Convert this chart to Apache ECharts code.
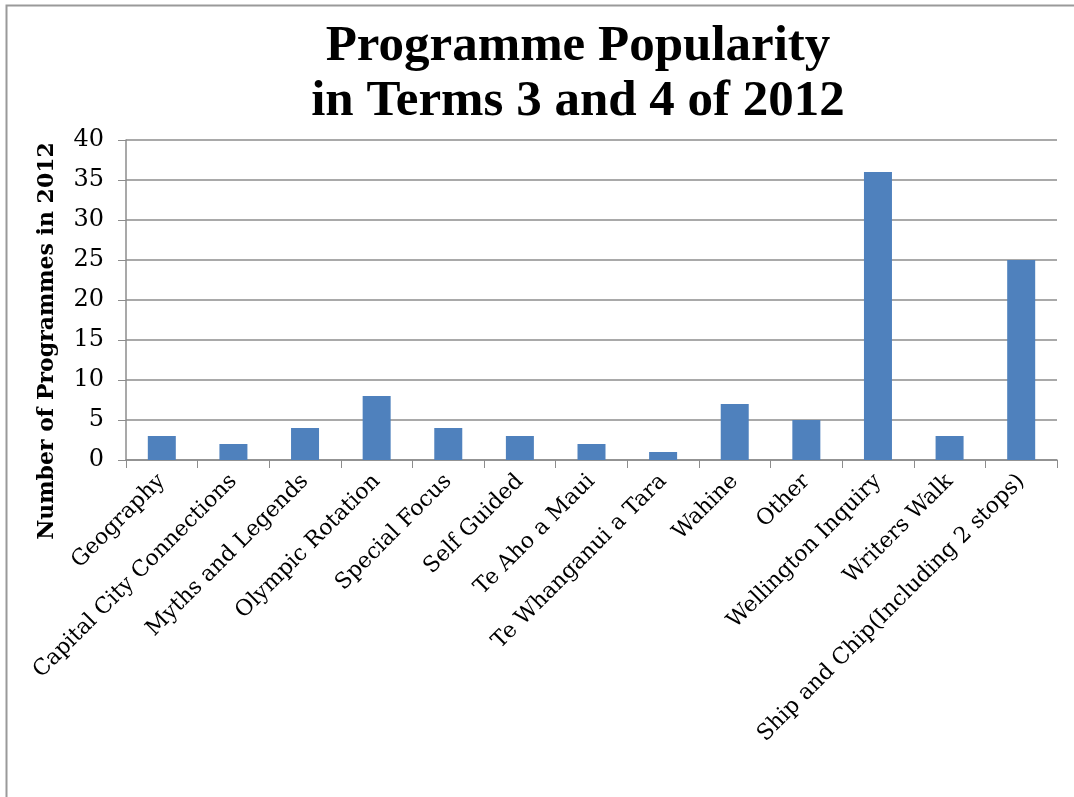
<!DOCTYPE html>
<html>
<head>
<meta charset="utf-8">
<script src="https://cdn.jsdelivr.net/npm/echarts@6/dist/echarts.min.js"></script>
<style>
  html, body { margin: 0; padding: 0; background: #fff; }
  #main { width: 1074px; height: 797px; }
</style>
</head>
<body>
<div id="main"></div>
<script>
// programme names (x axis)
var categories = [
    'Geography', 'Capital City Connections', 'Myths and Legends', 'Olympic Rotation',
    'Special Focus', 'Self Guided', 'Te Aho a Maui', 'Te Whanganui a Tara',
    'Wahine', 'Other', 'Wellington Inquiry', 'Writers Walk',
    'Ship and Chip(Including 2 stops)'
];
// number of programmes
var counts = [3, 2, 4, 8, 4, 3, 2, 1, 7, 5, 36, 3, 25];

var titleLines = ['Programme Popularity', 'in Terms 3 and 4 of 2012'];
var yName = 'Number of Programmes in 2012';

var serif = '"DejaVu Serif", "Liberation Serif", serif';
var gridColor = '#8c8c8c';

var chart = echarts.init(document.getElementById('main'));
var option = {
    animation: false,
    title: {
        text: titleLines.join('\n'),
        left: 573,
        textAlign: 'center',
        top: 14,
        textStyle: {
            fontFamily: '"Liberation Serif", serif',
            fontWeight: 'bold',
            fontSize: 51,
            lineHeight: 55,
            color: '#000'
        }
    },
    graphic: [
        // outer frame (only left / top edges visible)
        {type: 'rect', shape: {x: 6.5, y: 5.5, width: 1200, height: 900},
         style: {fill: null, stroke: '#9a9a9a', lineWidth: 2}, silent: true},
        // y axis title
        {type: 'text', x: 47, y: 341, rotation: Math.PI / 2,
         style: {text: yName, fontFamily: serif, fontWeight: 'bold', fontSize: 22,
                 fill: '#000', align: 'center', verticalAlign: 'middle'}}
    ],
    grid: {left: 126, right: 17, top: 140, bottom: 337},
    xAxis: {
        type: 'category',
        data: categories,
        axisLine: {lineStyle: {color: gridColor, width: 1.5}},
        axisTick: {show: true, length: 8, lineStyle: {color: gridColor}},
        axisLabel: {
            interval: 0,
            rotate: 45,
            margin: 18,
            fontFamily: serif,
            fontSize: 22,
            color: '#000'
        }
    },
    yAxis: {
        type: 'value',
        min: 0,
        max: 40,
        interval: 5,
        axisLine: {show: true, lineStyle: {color: gridColor, width: 1.5}},
        axisTick: {show: true, length: 8, lineStyle: {color: gridColor}},
        splitLine: {lineStyle: {color: gridColor, width: 1.5}},
        axisLabel: {
            margin: 22,
            fontFamily: serif,
            fontSize: 24,
            color: '#000'
        }
    },
    series: [{
        type: 'bar',
        data: counts,
        barWidth: 28,
        itemStyle: {color: '#4f81bd'}
    }]
};
chart.setOption(option);
</script>
</body>
</html>
